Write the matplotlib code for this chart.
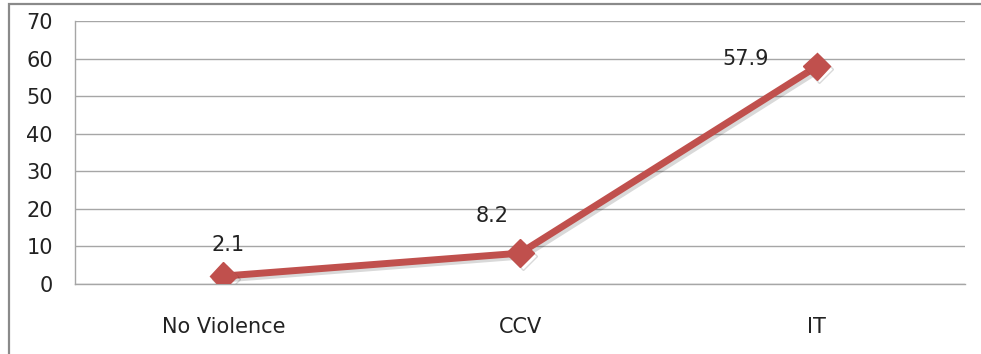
import matplotlib.pyplot as plt
import matplotlib.patheffects as pe
from matplotlib.patches import Rectangle

categories = ["No Violence", "CCV", "IT"]
values = [2.1, 8.2, 57.9]
label_offsets = [(5, 31), (-28, 37), (-71, 7)]  # pixel offsets of value labels
y_ticks = [0, 10, 20, 30, 40, 50, 60, 70]

plt.rcParams["font.family"] = ["DejaVu Sans"]

fig = plt.figure(figsize=(9.81, 3.54), dpi=100)
ax = fig.add_axes([75 / 981, 1 - 284 / 354, 890 / 981, 263 / 354])

# outer chart frame (only left and top visible in the crop)
fig.patches.append(
    Rectangle((8.5 / 981, -0.1), 1.2, 1 - 4.5 / 354 + 0.1,
              transform=fig.transFigure, fill=False,
              edgecolor="#8a8a8a", linewidth=1.6)
)

x = list(range(len(categories)))
line_color = "#C0504D"
ax.plot(
    x, values, color=line_color, linewidth=5, marker="D", markersize=14,
    zorder=3,
    path_effects=[pe.SimpleLineShadow(offset=(2, -2), alpha=0.15, shadow_color="black"),
                  pe.Normal()],
)

for xi, v, off in zip(x, values, label_offsets):
    ax.annotate(f"{v}", (xi, v), xytext=off, textcoords="offset pixels",
                ha="center", va="center", fontsize=15, color="#222222")

ax.set_xlim(-0.5, len(categories) - 0.5)
ax.set_ylim(0, 70)
ax.set_yticks(y_ticks)
ax.set_xticks(x)
ax.set_xticklabels(categories)
ax.tick_params(axis="y", length=0, pad=16, labelsize=15, labelcolor="#222222")
ax.tick_params(axis="x", length=0, pad=24, labelsize=15, labelcolor="#222222")

ax.grid(axis="y", color="#a6a6a6", linewidth=1)
ax.set_axisbelow(True)
for side in ["top", "right"]:
    ax.spines[side].set_visible(False)
for side in ["left", "bottom"]:
    ax.spines[side].set_color("#a6a6a6")
    ax.spines[side].set_linewidth(1)

fig.savefig("out.png", dpi=100)
